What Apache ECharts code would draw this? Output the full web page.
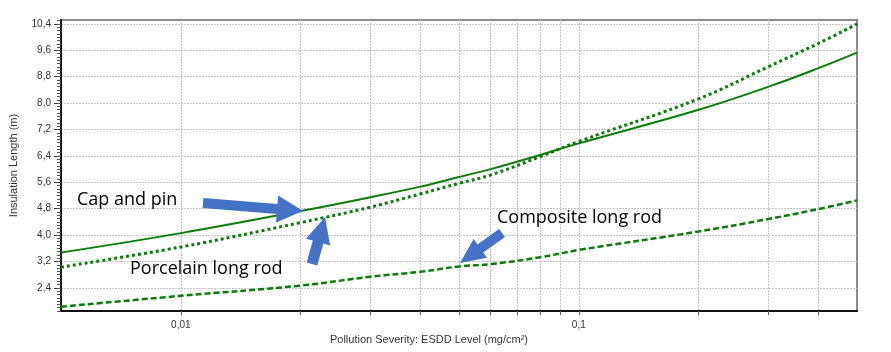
<!DOCTYPE html>
<html>
<head>
<meta charset="utf-8">
<script src="https://cdn.jsdelivr.net/npm/echarts@6/dist/echarts.min.js"></script>
<style>
  html, body { margin: 0; padding: 0; background: #fff; }
  #chart { width: 891px; height: 352px; }
</style>
</head>
<body>
<div id="chart"></div>
<script>
// ESDD levels (mg/cm2)
const esdd = [0.005, 0.01, 0.02, 0.03, 0.04, 0.05, 0.06, 0.08, 0.1, 0.2, 0.3, 0.4, 0.5];
// insulation length (m)
const capAndPin = [3.47, 4.06, 4.73, 5.15, 5.47, 5.76, 6.0, 6.43, 6.78, 7.8, 8.5, 9.06, 9.53];
const porcelainLongRod = [3.03, 3.64, 4.38, 4.85, 5.25, 5.57, 5.82, 6.38, 6.84, 8.13, 9.11, 9.81, 10.4];
const compositeLongRod = [1.83, 2.16, 2.47, 2.74, 2.89, 3.05, 3.12, 3.33, 3.55, 4.11, 4.49, 4.79, 5.05];

const xTicks = [0.01, 0.02, 0.03, 0.04, 0.05, 0.06, 0.07, 0.08, 0.09, 0.1, 0.2, 0.3, 0.4];
const xLabels = [0.01, 0.1];
const yLabels = [2.4, 3.2, 4.0, 4.8, 5.6, 6.4, 7.2, 8.0, 8.8, 9.6, 10.4];

const green = '#0e7a0e';
const labelFont = 'Liberation Sans, Arial, sans-serif';

// small ticks every 0.1 on the y axis
const yMinor = [];
for (let v = 17; v <= 105; v++) yMinor.push(v / 10);

function pairs(ys) {
    return esdd.map((x, i) => [x, ys[i]]);
}

// block arrow polygon from tail to tip
function arrow(x1, y1, x2, y2, shaft, head, headLen) {
    const dx = x2 - x1, dy = y2 - y1;
    const len = Math.hypot(dx, dy);
    const ux = dx / len, uy = dy / len;
    const nx = -uy, ny = ux;
    const bx = x2 - ux * headLen, by = y2 - uy * headLen;
    const pts = [
        [x1 + nx * shaft / 2, y1 + ny * shaft / 2],
        [bx + nx * shaft / 2, by + ny * shaft / 2],
        [bx + nx * head / 2, by + ny * head / 2],
        [x2, y2],
        [bx - nx * head / 2, by - ny * head / 2],
        [bx - nx * shaft / 2, by - ny * shaft / 2],
        [x1 - nx * shaft / 2, y1 - ny * shaft / 2]
    ];
    return { type: 'polygon', shape: { points: pts }, style: { fill: '#4472c4' }, z: 100 };
}

function note(text, x, y) {
    return {
        type: 'text', x: x, y: y, z: 100,
        style: { text: text, fill: '#000', font: '18px "Open Sans", Lato, sans-serif', verticalAlign: 'middle' }
    };
}

const comma = v => String(+(+v).toFixed(2)).replace('.', ',');

const chart = echarts.init(document.getElementById('chart'));
chart.setOption({
    animation: false,
    grid: {
        left: 58, right: 34, top: 20, bottom: 41,
        show: true, borderColor: '#8a8a8a', borderWidth: 2, backgroundColor: '#fff'
    },
    xAxis: {
        type: 'log', logBase: 10, min: 0.005, max: 0.5,
        name: 'Pollution Severity: ESDD Level (mg/cm²)',
        nameLocation: 'middle', nameGap: 23,
        nameTextStyle: { fontSize: 11, color: '#333340', fontFamily: labelFont, padding: [0, 60, 0, 0] },
        axisLine: { lineStyle: { color: '#111', width: 2 } },
        axisTick: { customValues: xTicks, length: 4, lineStyle: { color: '#555' } },
        axisLabel: { customValues: xLabels, formatter: comma, fontSize: 10, color: '#333340', margin: 9, fontFamily: labelFont },
        splitLine: { show: true, lineStyle: { color: '#c4c4c4', type: [2, 1], width: 1 } },
        minorTick: { show: false }
    },
    yAxis: [{
        type: 'value', min: 1.7, max: 10.52,
        name: 'Insulation Length (m)',
        nameLocation: 'middle', nameGap: 42,
        nameTextStyle: { fontSize: 11, color: '#333340', fontFamily: labelFont },
        axisLine: { show: true, lineStyle: { color: '#111', width: 2 } },
        axisTick: { customValues: yLabels, length: 7, lineStyle: { color: '#333' } },
        axisLabel: { customValues: yLabels, formatter: v => (+v).toFixed(1).replace('.', ','), fontSize: 10, color: '#333340', margin: 10, fontFamily: labelFont },
        splitLine: { show: true, lineStyle: { color: '#c4c4c4', type: [2, 1], width: 1 } }
    }, {
        type: 'value', min: 1.7, max: 10.52, position: 'left',
        axisLine: { show: false },
        axisTick: { show: true, customValues: yMinor, length: 4, lineStyle: { color: '#555' } },
        axisLabel: { show: false },
        splitLine: { show: false }
    }],
    series: [{
        name: 'Cap and pin', type: 'line', smooth: 0.4, symbol: 'none', z: 3,
        data: pairs(capAndPin),
        lineStyle: { color: green, width: 2 }
    }, {
        name: 'Porcelain long rod', type: 'line', smooth: 0.4, symbol: 'none', z: 3,
        data: pairs(porcelainLongRod),
        lineStyle: { color: green, width: 3, type: [3, 3] }
    }, {
        name: 'Composite long rod', type: 'line', smooth: 0.4, symbol: 'none', z: 3,
        data: pairs(compositeLongRod),
        lineStyle: { color: green, width: 2.5, type: [6, 3] }
    }],
    graphic: [
        note('Cap and pin', 77, 200),
        note('Porcelain long rod', 130, 269),
        note('Composite long rod', 497, 218),
        arrow(203, 203, 303, 211, 10, 27, 26),
        arrow(312, 264, 325, 217, 11, 25, 26),
        arrow(502, 233, 460, 263, 10, 23, 25)
    ]
});
</script>
</body>
</html>
